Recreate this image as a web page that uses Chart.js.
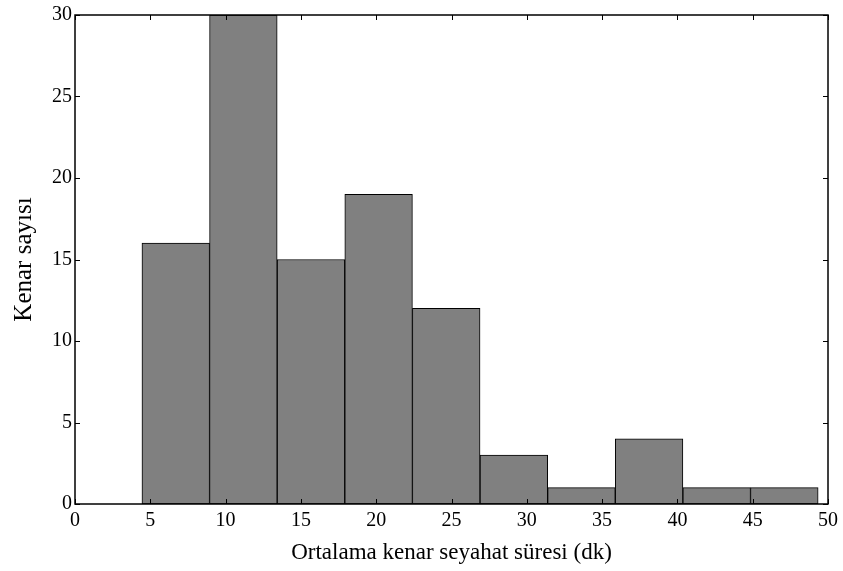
<!DOCTYPE html>
<html>
<head>
<meta charset="utf-8">
<script src="https://cdn.jsdelivr.net/npm/chart.js@4"></script>
<style>
  html, body { margin: 0; padding: 0; background: #fff; }
  #wrap { width: 843px; height: 571px; }
</style>
</head>
<body>
<div id="wrap"><canvas id="histChart" width="843" height="571"></canvas></div>
<script>
'use strict';

// bin centres (dk) and counts
var binCenters = [6.69, 11.18, 15.67, 20.16, 24.65, 29.14, 33.63, 38.12, 42.61, 47.10];
var binCounts  = [16, 30, 15, 19, 12, 3, 1, 4, 1, 1];
var xTicks = [0, 5, 10, 15, 20, 25, 30, 35, 40, 45, 50];
var yTicks = [0, 5, 10, 15, 20, 25, 30];

var FONT = "'Liberation Serif', 'Times New Roman', serif";

var points = binCenters.map(function (c, i) {
  return { x: c, y: binCounts[i] };
});

// MATLAB style box with ticks pointing inward
var boxPlugin = {
  id: 'matlabBox',
  afterDraw: function (chart) {
    var ctx = chart.ctx;
    var a = chart.chartArea;
    var xs = chart.scales.x, ys = chart.scales.y;
    var len = 5;
    ctx.save();
    ctx.strokeStyle = '#000';
    ctx.lineWidth = 1;
    ctx.beginPath();
    xs.ticks.forEach(function (t) {
      var px = Math.round(xs.getPixelForValue(t.value)) + 0.5;
      ctx.moveTo(px, a.bottom); ctx.lineTo(px, a.bottom - len);
      ctx.moveTo(px, a.top); ctx.lineTo(px, a.top + len);
    });
    ys.ticks.forEach(function (t) {
      var py = Math.round(ys.getPixelForValue(t.value)) + 0.5;
      ctx.moveTo(a.left, py); ctx.lineTo(a.left + len, py);
      ctx.moveTo(a.right, py); ctx.lineTo(a.right - len, py);
    });
    ctx.stroke();
    ctx.lineWidth = 1.5;
    ctx.strokeRect(a.left, a.top, a.right - a.left, a.bottom - a.top);
    ctx.restore();
  }
};

var ctx = document.getElementById('histChart');
var histChart = new Chart(ctx, {
  type: 'bar',
  data: {
    datasets: [{
      data: points,
      backgroundColor: '#808080',
      borderColor: '#000',
      borderWidth: 1,
      borderSkipped: false,
      barPercentage: 1.0,
      categoryPercentage: 1.0
    }]
  },
  plugins: [boxPlugin],
  options: {
    responsive: false,
    animation: false,
    layout: { padding: { left: 0, top: 13, right: 14, bottom: 0 } },
    plugins: {
      legend: { display: false },
      tooltip: { enabled: false }
    },
    scales: {
      x: {
        type: 'linear',
        offset: false,
        min: 0,
        max: 50,
        afterBuildTicks: function (scale) {
          scale.ticks = xTicks.map(function (v) { return { value: v }; });
        },
        afterFit: function (scale) { scale.height = 67; },
        grid: { display: false, drawTicks: false, offset: false },
        border: { display: false },
        ticks: {
          color: '#000',
          padding: 5,
          maxRotation: 0,
          font: { family: FONT, size: 20 }
        },
        title: {
          display: true,
          text: 'Ortalama kenar seyahat süresi (dk)',
          color: '#000',
          padding: { top: 4 },
          font: { family: FONT, size: 23 }
        }
      },
      y: {
        min: 0,
        max: 30,
        afterBuildTicks: function (scale) {
          scale.ticks = yTicks.map(function (v) { return { value: v }; });
        },
        afterFit: function (scale) { scale.width = 75; },
        grid: { display: false, drawTicks: false },
        border: { display: false },
        ticks: {
          color: '#000',
          padding: 3,
          font: { family: FONT, size: 20 }
        },
        title: {
          display: true,
          text: 'Kenar sayısı',
          color: '#000',
          padding: { top: 9, bottom: 4 },
          font: { family: FONT, size: 25 }
        }
      }
    }
  }
});
</script>
</body>
</html>
